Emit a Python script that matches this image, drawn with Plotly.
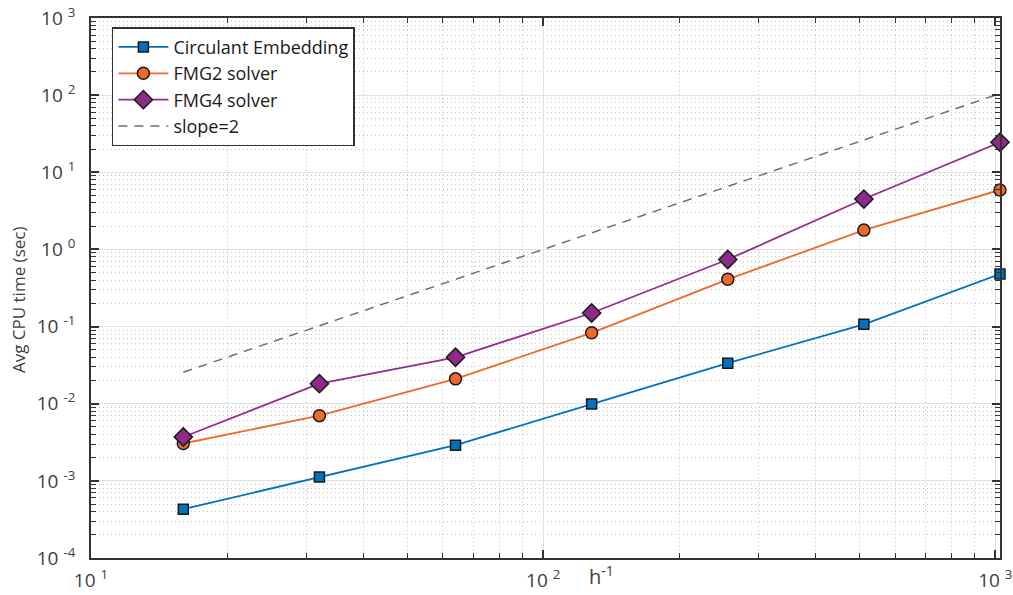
import numpy as np
import plotly.graph_objects as go

h = [16, 32, 64, 128, 256, 512, 1024]
circulant = [4.3e-4, 1.12e-3, 2.9e-3, 9.9e-3, 0.0335, 0.107, 0.48]
fmg2 = [3.05e-3, 7.0e-3, 0.021, 0.083, 0.41, 1.78, 5.9]
fmg4 = [3.7e-3, 0.0182, 0.040, 0.150, 0.74, 4.5, 24.5]
slope_ref = [1e-4 * v ** 2 for v in h]

x_tickvals = [10, 100, 1000]
x_ticktext = ["10 <sup>1</sup>", "10 <sup>2</sup>", "10 <sup>3</sup>"]
y_tickvals = [1e-4, 1e-3, 1e-2, 1e-1, 1, 10, 100, 1000]
y_ticktext = ["10 <sup>-4</sup>", "10 <sup>-3</sup>", "10 <sup>-2</sup>", "10 <sup>-1</sup>",
              "10 <sup>0</sup>", "10 <sup>1</sup>", "10 <sup>2</sup>", "10 <sup>3</sup>"]

fig = go.Figure()
fig.add_trace(go.Scatter(x=h, y=circulant, mode="lines+markers", name="Circulant Embedding",
                         cliponaxis=False,
                         line=dict(color="#0072BD", width=1.8),
                         marker=dict(symbol="square", size=10, color="#0072BD",
                                     line=dict(color="#1a1a1a", width=1.5))))
fig.add_trace(go.Scatter(x=h, y=fmg2, mode="lines+markers", name="FMG2 solver",
                         cliponaxis=False,
                         line=dict(color="#EE6A2A", width=1.8),
                         marker=dict(symbol="circle", size=12, color="#EE6A2A",
                                     line=dict(color="#1a1a1a", width=1.5))))
fig.add_trace(go.Scatter(x=h, y=fmg4, mode="lines+markers", name="FMG4 solver",
                         cliponaxis=False,
                         line=dict(color="#9B2A8E", width=1.8),
                         marker=dict(symbol="diamond", size=14, color="#8E2A8A",
                                     line=dict(color="#1a1a1a", width=1.5))))
fig.add_trace(go.Scatter(x=h, y=slope_ref, mode="lines", name="slope=2",
                         line=dict(color="#707070", width=1.5, dash="9px,7px")))

axis_common = dict(
    type="log", showline=True, linecolor="#333333", linewidth=1.8, mirror="allticks",
    ticks="inside", ticklen=8, tickcolor="#333333", tickwidth=1.5,
    showgrid=True, gridcolor="#e0e0e0", gridwidth=1.3,
    tickfont=dict(family="Open Sans", size=19, color="#404040"),
    minor=dict(ticks="inside", ticklen=5, tickcolor="#333333", tickwidth=1.2,
               showgrid=True, gridcolor="#c4c4c4", griddash="1px,3px", gridwidth=1, dtick="D1"),
    zeroline=False, automargin=False,
)

fig.update_xaxes(range=[1, np.log10(1024)], tickvals=x_tickvals, ticktext=x_ticktext,
                 ticklabelstandoff=4, **axis_common)
fig.update_yaxes(range=[-4, 3], tickvals=y_tickvals, ticktext=y_ticktext,
                 ticklabelstandoff=10, **axis_common)

fig.add_annotation(text="h<sup>-1</sup>", xref="paper", yref="paper", x=0.562, y=-0.033,
                   showarrow=False, xanchor="center", yanchor="middle",
                   font=dict(family="Open Sans", size=20, color="#404040"))
fig.add_annotation(text="Avg CPU time (sec)", xref="paper", yref="paper", x=-0.079, y=0.478,
                   textangle=-90, showarrow=False, xanchor="center", yanchor="middle",
                   font=dict(family="Open Sans", size=17, color="#404040"))

fig.update_layout(
    width=1013, height=595, autosize=False,
    margin=dict(l=91, r=13, t=18, b=37),
    plot_bgcolor="white", paper_bgcolor="white",
    showlegend=True,
    legend=dict(x=0.023, y=0.983, xanchor="left", yanchor="top",
                bgcolor="white", bordercolor="#333333", borderwidth=1.5,
                font=dict(family="Open Sans", size=18, color="#1a1a1a"),
                tracegroupgap=0, itemwidth=50, entrywidth=290, entrywidthmode="pixels"),
)

fig.write_html("out.html")
